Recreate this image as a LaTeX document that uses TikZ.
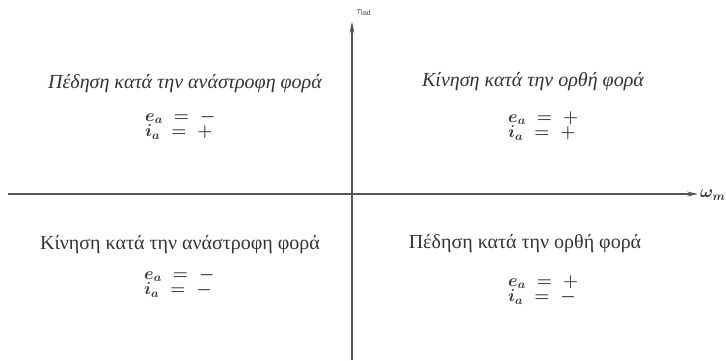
\documentclass[tikz,border=0pt]{standalone}
\usepackage{fontspec}
\setmainfont{Liberation Serif}
\usepackage{amsmath}
\usetikzlibrary{arrows.meta}
\definecolor{ink}{HTML}{333333}
\definecolor{axisc}{HTML}{555555}
\tikzset{
  axisline/.style={draw=axisc, line width=1.2pt, -{Stealth[length=11pt,width=5pt]}},
  titleit/.style={text=ink, font=\fontsize{20}{22}\selectfont\itshape, inner sep=0pt},
  titleup/.style={text=ink, font=\fontsize{20}{22}\selectfont, inner sep=0pt},
  signs/.style={text=ink, font=\fontsize{18}{14.5}\selectfont\boldmath, anchor=west, align=left, inner sep=0pt},
  axlabel/.style={text=ink, font=\fontsize{17}{18}\selectfont\boldmath, inner sep=0pt}
}
\begin{document}
\begin{tikzpicture}[x=1pt,y=1pt]
  \useasboundingbox (0,0) rectangle (726,360);
  % axes
  \coordinate (vbot) at (352,0);
  \coordinate (vtop) at (352,338);
  \coordinate (hleft) at (8,166);
  \coordinate (hright) at (698,166);
  \draw[axisline] (vbot) -- (vtop);
  \draw[axisline] (hleft) -- (hright);
  \node[axlabel, anchor=west] (wm) at (700,165) {$\omega_m$};
  \node[text=ink, font=\fontsize{11}{12}\selectfont, inner sep=0pt, anchor=base west] (tq) at (356,346) {$\tau_{\mathrm{ind}}$};
  % quadrant II
  \node[titleit] (q2t) at (185,276) {Πέδηση κατά την ανάστροφη φορά};
  \node[signs] (q2s) at (145,235) {$e_a\;=\;-$\\$i_a\;=\;+$};
  % quadrant I
  \node[titleit] (q1t) at (533,278) {Κίνηση κατά την ορθή φορά};
  \node[signs] (q1s) at (508,234) {$e_a\;=\;+$\\$i_a\;=\;+$};
  % quadrant III
  \node[titleup] (q3t) at (180,115) {Κίνηση κατά την ανάστροφη φορά};
  \node[signs] (q3s) at (144,77) {$e_a\;=\;-$\\$i_a\;=\;-$};
  % quadrant IV
  \node[titleup] (q4t) at (525,116) {Πέδηση κατά την ορθή φορά};
  \node[signs] (q4s) at (508,70) {$e_a\;=\;+$\\$i_a\;=\;-$};
\end{tikzpicture}
\end{document}
